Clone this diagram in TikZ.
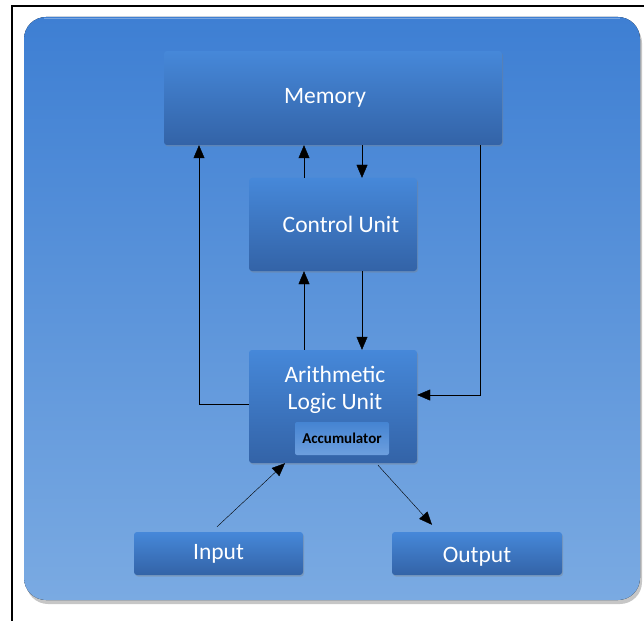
\documentclass[tikz,border=0pt]{standalone}
\usepackage{fontspec}
\setmainfont{Carlito}
\usetikzlibrary{arrows.meta,shadows}

\definecolor{bgtop}{HTML}{3E7FD3}
\definecolor{bgbot}{HTML}{7AAAE2}
\definecolor{boxtop}{HTML}{4688D9}
\definecolor{boxbot}{HTML}{3363A7}
\definecolor{acctop}{HTML}{4584D2}
\definecolor{accbot}{HTML}{6D9FDE}

\begin{document}
\begin{tikzpicture}[x=1pt, y=-1pt,
  unit/.style = {rounded corners=3pt, top color=boxtop, bottom color=boxbot,
    text=white, font=\fontsize{23.5}{27}\selectfont, inner sep=0pt,
    drop shadow={shadow xshift=1pt, shadow yshift=-1.5pt, opacity=0.35}},
  accbox/.style = {rounded corners=2pt, top color=acctop, bottom color=accbot,
    text=black, font=\bfseries\fontsize{15}{17}\selectfont, inner sep=0pt,
    minimum width=94pt, minimum height=33pt},
  arr/.style = {-{Triangle[width=11pt, length=13pt]}, thin, black}]

\useasboundingbox (0,0) rectangle (644,620);

% frame and panel
\draw [line width=2pt] (12,6) rectangle (660,640);
\fill [top color=bgtop, bottom color=bgbot, rounded corners=22pt,
  drop shadow={shadow xshift=2pt, shadow yshift=-4pt, opacity=0.45}]
  (24,17) rectangle (640,600);
\draw [white, opacity=0.3, line width=1.5pt] (44,18.5) -- (620,18.5);

% units
\node [unit, minimum width=338pt, minimum height=94pt] (mem) at (333,98)
  {\hspace*{-16pt}Memory};
\node [unit, minimum width=168pt, minimum height=93pt] (cu) at (333,224.5)
  {\hspace*{16pt}Control Unit};
\node [unit, minimum width=168pt, minimum height=113pt] (alu) at (333,406.5) {};
\node [text=white, font=\fontsize{23.5}{27}\selectfont, align=center] (alutext) at (335,390)
  {Arithmetic\\Logic Unit};
\node [accbox] (acc) at (342,438.5) {Accumulator};
\node [unit, minimum width=169pt, minimum height=43pt] (in) at (218.5,553.5) {Input};
\node [unit, minimum width=170pt, minimum height=43pt] (out) at (477,553.5)
  {\raisebox{-3pt}[\height][\depth]{Output}};

% connectors
\draw [arr] ([yshift=2.5pt]alu.west) -| (199,0 |- mem.south);
\draw [arr] ([xshift=-29pt]cu.north) -- ([xshift=-29pt]mem.south);
\draw [arr] ([xshift=29pt]mem.south) -- ([xshift=29pt]cu.north);
\draw [arr] ([xshift=147pt]mem.south) |- ([yshift=11.5pt]alu.east);
\draw [arr] ([xshift=-29pt]alu.north) -- ([xshift=-29pt]cu.south);
\draw [arr] ([xshift=29pt]cu.south) -- ([xshift=29pt]alu.north);
\draw [arr] ([xshift=-1.5pt, yshift=5pt]in.north) -- ([xshift=-48pt]alu.south);
\draw [arr] ([xshift=45pt, yshift=-2pt]alu.south) -- ([xshift=-45pt, yshift=7pt]out.north);

\end{tikzpicture}
\end{document}
